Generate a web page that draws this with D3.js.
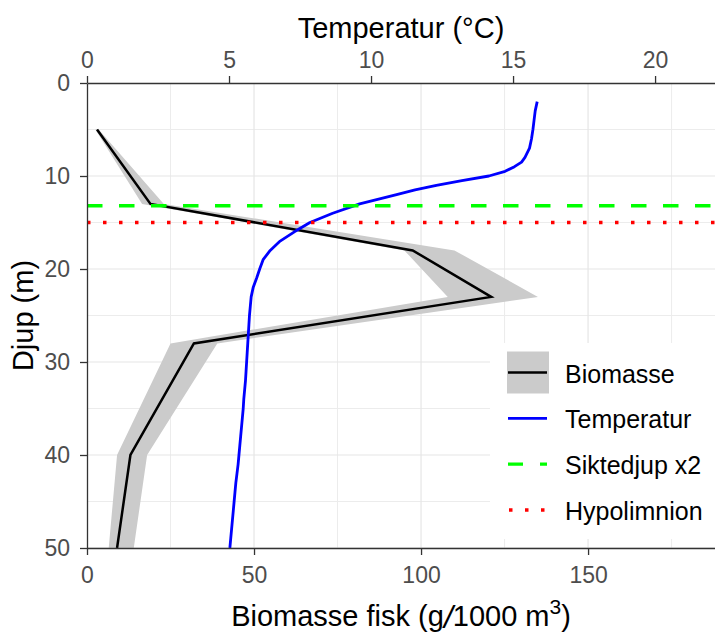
<!DOCTYPE html>
<html>
<head>
<meta charset="utf-8">
<script src="https://cdn.jsdelivr.net/npm/d3@7"></script>
<style>
  body { margin: 0; background: #fff; }
  text { font-family: "Liberation Sans", Arial, sans-serif; }
</style>
</head>
<body>
<svg id="chart" width="715" height="637"></svg>
<script>
// biomasse (g/1000 m3) per djup, med usikkerhetsband
const bioDepth = [5, 13, 18, 23, 28, 40, 50];
const bioMean  = [3, 19, 97.5, 121, 32, 13, 9];
const bioLow   = [2.5, 16.5, 95, 108, 25, 9, 6.5];
const bioHigh  = [3.5, 23, 110, 135, 39, 18, 14];

// temperaturprofil
const tempDepth = [2, 3, 4, 5, 6, 7, 8, 8.5, 9, 9.5, 10, 10.5, 11, 11.5, 12, 13, 14, 15,
  16, 17, 18, 19, 20, 21, 22, 23, 24, 25, 26, 27, 28, 29, 30, 31, 32, 33, 34, 35, 36,
  37, 38, 39, 40, 41, 42, 43, 44, 45, 46, 47, 48, 49, 50];
const tempValue = [15.85, 15.78, 15.74, 15.7, 15.65, 15.58, 15.42, 15.3, 15.05, 14.72,
  14.15, 13.2, 12.3, 11.55, 10.9, 9.6, 8.65, 7.85, 7.3, 6.8, 6.45, 6.2, 6.08, 5.97,
  5.85, 5.78, 5.75, 5.72, 5.7, 5.68, 5.66, 5.64, 5.62, 5.6, 5.58, 5.55, 5.52, 5.5,
  5.47, 5.44, 5.41, 5.38, 5.35, 5.32, 5.28, 5.24, 5.21, 5.18, 5.15, 5.12, 5.09, 5.06, 5.03];

const siktedjup = 13.2;
const hypolimnion = 15;

const bioTicks = [0, 50, 100, 150];
const bioMinor = [25, 75, 125, 175];
const tempTicks = [0, 5, 10, 15, 20];
const depthTicks = [0, 10, 20, 30, 40, 50];
const depthMinor = [5, 15, 25, 35, 45];
const legendLabels = ['Biomasse', 'Temperatur', 'Siktedjup x2', 'Hypolimnion'];

const pLeft = 87, pRight = 715, pTop = 83, pBottom = 548;

const svg = d3.select('#chart');

const xBio = d3.scaleLinear().domain([0, 188]).range([pLeft, pRight]);
const xTemp = d3.scaleLinear().domain([0, 22.11]).range([pLeft, pRight]);
const y = d3.scaleLinear().domain([0, 50]).range([pTop, pBottom]);

svg.append('clipPath').attr('id', 'panel')
  .append('rect').attr('x', pLeft).attr('y', pTop).attr('width', pRight - pLeft).attr('height', pBottom - pTop);

const panel = svg.append('g').attr('clip-path', 'url(#panel)');

// grid
panel.selectAll('.vminor').data(bioMinor).enter().append('line')
  .attr('x1', d => xBio(d)).attr('x2', d => xBio(d)).attr('y1', pTop).attr('y2', pBottom)
  .attr('stroke', '#ececec').attr('stroke-width', 1);
panel.selectAll('.hminor').data(depthMinor).enter().append('line')
  .attr('x1', pLeft).attr('x2', pRight).attr('y1', d => y(d)).attr('y2', d => y(d))
  .attr('stroke', '#ececec').attr('stroke-width', 1);
panel.selectAll('.vmajor').data(bioTicks).enter().append('line')
  .attr('x1', d => xBio(d)).attr('x2', d => xBio(d)).attr('y1', pTop).attr('y2', pBottom)
  .attr('stroke', '#e6e6e6').attr('stroke-width', 1.2);
panel.selectAll('.hmajor').data(depthTicks).enter().append('line')
  .attr('x1', pLeft).attr('x2', pRight).attr('y1', d => y(d)).attr('y2', d => y(d))
  .attr('stroke', '#e6e6e6').attr('stroke-width', 1.2);

// biomass band + line
const bio = bioDepth.map((d, i) => ({ depth: d, mean: bioMean[i], lo: bioLow[i], hi: bioHigh[i] }));

panel.append('path')
  .datum(bio)
  .attr('fill', '#cbcbcb')
  .attr('d', d3.area().y(d => y(d.depth)).x0(d => xBio(d.lo)).x1(d => xBio(d.hi)));

panel.append('path')
  .datum(bio)
  .attr('fill', 'none').attr('stroke', '#000').attr('stroke-width', 2.5)
  .attr('d', d3.line().x(d => xBio(d.mean)).y(d => y(d.depth)));

// temperature
const temp = tempDepth.map((d, i) => ({ depth: d, t: tempValue[i] }));
panel.append('path')
  .datum(temp)
  .attr('fill', 'none').attr('stroke', '#0000ff').attr('stroke-width', 2.8)
  .attr('stroke-linejoin', 'round')
  .attr('d', d3.line().x(d => xTemp(d.t)).y(d => y(d.depth)));

// reference lines
panel.append('line')
  .attr('x1', pLeft).attr('x2', pRight).attr('y1', y(siktedjup)).attr('y2', y(siktedjup))
  .attr('stroke', '#00ff00').attr('stroke-width', 3.3).attr('stroke-dasharray', '15.5,16.5');
panel.append('line')
  .attr('x1', pLeft).attr('x2', pRight).attr('y1', y(hypolimnion)).attr('y2', y(hypolimnion))
  .attr('stroke', '#ff0000').attr('stroke-width', 3.4).attr('stroke-dasharray', '3.5,12.5');

// axes
const tickFont = g => g.selectAll('text')
  .attr('font-size', 23).attr('fill', '#4d4d4d')
  .attr('font-family', '"Liberation Sans", Arial, sans-serif');
const axisStyle = g => {
  g.select('.domain').attr('stroke', '#333').attr('stroke-width', 1.3);
  g.selectAll('.tick line').attr('stroke', '#333').attr('stroke-width', 1.3);
};

svg.append('g')
  .attr('transform', `translate(0, ${pBottom})`)
  .call(d3.axisBottom(xBio).tickValues(bioTicks).tickSize(7).tickSizeOuter(0).tickPadding(12))
  .call(tickFont).call(axisStyle);

svg.append('g')
  .attr('transform', `translate(0, ${pTop})`)
  .call(d3.axisTop(xTemp).tickValues(tempTicks).tickSize(7).tickSizeOuter(0).tickPadding(8))
  .call(tickFont).call(axisStyle);

svg.append('g')
  .attr('transform', `translate(${pLeft}, 0)`)
  .call(d3.axisLeft(y).tickValues(depthTicks).tickSize(7).tickSizeOuter(0).tickPadding(10))
  .call(tickFont).call(axisStyle);

// titles
svg.append('text')
  .attr('x', (pLeft + pRight) / 2).attr('y', 38)
  .attr('text-anchor', 'middle').attr('font-size', 29)
  .text('Temperatur (°C)');

const xt = svg.append('text')
  .attr('x', (pLeft + pRight) / 2).attr('y', 626)
  .attr('text-anchor', 'middle').attr('font-size', 29);
xt.append('tspan').text('Biomasse fisk (g');
xt.append('tspan').text('/').attr('font-size', 32).attr('dy', 2).attr('font-style', 'italic');
xt.append('tspan').text('1000 m').attr('dy', -2);
xt.append('tspan').text('3').attr('font-size', 21).attr('dy', -12);
xt.append('tspan').text(')').attr('dy', 12);

svg.append('text')
  .attr('transform', `translate(33, ${(pTop + pBottom) / 2}) rotate(-90)`)
  .attr('text-anchor', 'middle').attr('font-size', 29)
  .text('Djup (m)');

// legend
const legend = svg.append('g');
legend.append('rect')
  .attr('x', 490).attr('y', 343).attr('width', 225).attr('height', 196)
  .attr('fill', '#fff');

const rowY = d3.scalePoint().domain(legendLabels).range([372.5, 510]);
const keyX0 = 508, keyX1 = 547;

legend.append('rect')
  .attr('x', 507).attr('y', rowY('Biomasse') - 21).attr('width', 42).attr('height', 42)
  .attr('fill', '#cbcbcb');
legend.append('line')
  .attr('x1', keyX0).attr('x2', keyX1).attr('y1', rowY('Biomasse')).attr('y2', rowY('Biomasse'))
  .attr('stroke', '#000').attr('stroke-width', 2.5);
legend.append('line')
  .attr('x1', keyX0).attr('x2', keyX1).attr('y1', rowY('Temperatur')).attr('y2', rowY('Temperatur'))
  .attr('stroke', '#0000ff').attr('stroke-width', 2.8);
legend.append('line')
  .attr('x1', keyX0).attr('x2', keyX1).attr('y1', rowY('Siktedjup x2')).attr('y2', rowY('Siktedjup x2'))
  .attr('stroke', '#00ff00').attr('stroke-width', 3.3).attr('stroke-dasharray', '15,17');
legend.append('line')
  .attr('x1', keyX0 + 1).attr('x2', keyX1).attr('y1', rowY('Hypolimnion')).attr('y2', rowY('Hypolimnion'))
  .attr('stroke', '#ff0000').attr('stroke-width', 3.4).attr('stroke-dasharray', '3.5,12.5');

legend.selectAll('.ltext').data(legendLabels).enter().append('text')
  .attr('x', 565).attr('y', d => rowY(d) + 10)
  .attr('font-size', 25)
  .text(d => d);
</script>
</body>
</html>
